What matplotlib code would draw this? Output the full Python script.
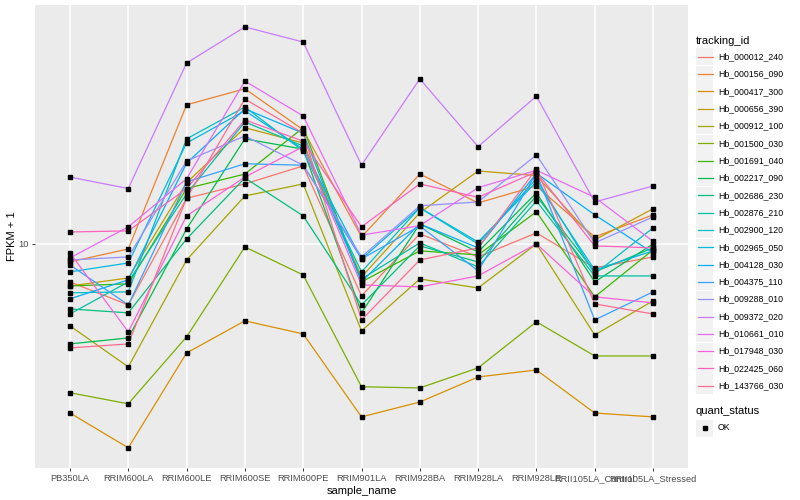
import matplotlib
matplotlib.use('Agg')
import matplotlib.pyplot as plt
from matplotlib.lines import Line2D
from matplotlib.patches import Rectangle

plt.rcParams['font.family'] = ['Liberation Sans', 'DejaVu Sans']

samples = ['PB350LA', 'RRIM600LA', 'RRIM600LE', 'RRIM600SE', 'RRIM600PE',
           'RRIM901LA', 'RRIM928BA', 'RRIM928LA', 'RRIM928LE',
           'RRII105LA_Control', 'RRII105LA_Stressed']

tracking_ids = ['Hb_000012_240', 'Hb_000156_090', 'Hb_000417_300', 'Hb_000656_390',
                'Hb_000912_100', 'Hb_001500_030', 'Hb_001691_040', 'Hb_002217_090',
                'Hb_002686_230', 'Hb_002876_210', 'Hb_002900_120', 'Hb_002965_050',
                'Hb_004128_030', 'Hb_004375_110', 'Hb_009288_010', 'Hb_009372_020',
                'Hb_010661_010', 'Hb_017948_030', 'Hb_022425_060', 'Hb_143766_030']

# ggplot default hue palette for 20 groups
colors = ['#F8766D', '#EA8331', '#D89000', '#C09B00', '#A3A500', '#7CAE00', '#39B600',
          '#00BB4E', '#00BF7D', '#00C1A3', '#00BFC4', '#00BAE0', '#00B0F6', '#35A2FF',
          '#9590FF', '#C77CFF', '#E76BF3', '#FA62DB', '#FF62BC', '#FF6C91']

# FPKM + 1, one list per gene, in sample order
hb_000012_240 = [7.47, 6.26, 14.2, 15.85, 18.2, 6.71, 10.8, 9.05, 10.88, 8.32, 9.05]
hb_000156_090 = [8.71, 9.62, 29.1, 32.9, 24.0, 10.55, 17.1, 13.7, 15.6, 10.55, 12.5]
hb_000417_300 = [2.73, 2.09, 4.33, 5.54, 5.01, 2.65, 2.97, 3.60, 3.80, 2.73, 2.65]
hb_000656_390 = [7.24, 7.70, 16.0, 24.4, 21.7, 7.76, 12.7, 17.5, 16.9, 10.31, 13.1]
hb_000912_100 = [5.33, 3.89, 8.84, 14.45, 15.85, 5.13, 7.64, 7.13, 10.0, 4.97, 6.46]
hb_001500_030 = [3.19, 2.93, 4.90, 9.77, 7.88, 3.34, 3.31, 3.86, 5.50, 4.23, 4.23]
hb_001691_040 = [7.24, 7.36, 15.3, 17.1, 24.4, 7.47, 9.48, 9.19, 12.8, 6.66, 9.55]
hb_002217_090 = [4.64, 4.86, 11.22, 22.4, 20.7, 5.89, 11.66, 9.40, 14.8, 7.47, 10.0]
hb_002686_230 = [6.07, 5.89, 10.39, 16.6, 12.4, 6.26, 9.85, 8.71, 14.45, 8.07, 9.70]
hb_002876_210 = [5.84, 7.47, 14.7, 25.5, 21.2, 7.64, 10.08, 8.38, 13.9, 7.82, 7.82]
hb_002900_120 = [6.87, 6.92, 22.4, 28.6, 20.4, 8.07, 13.2, 10.0, 16.5, 7.94, 11.31]
hb_002965_050 = [8.07, 8.64, 21.7, 27.8, 20.7, 8.91, 13.2, 10.15, 16.1, 8.19, 9.48]
hb_004128_030 = [6.56, 7.59, 18.6, 28.2, 23.4, 7.47, 11.66, 9.70, 17.2, 12.5, 9.33]
hb_004375_110 = [8.51, 6.26, 16.1, 18.5, 18.3, 8.91, 11.48, 8.13, 17.2, 5.58, 6.92]
hb_009288_010 = [8.84, 9.05, 18.9, 22.9, 18.3, 9.05, 13.4, 13.8, 19.8, 10.08, 12.3]
hb_009372_020 = [16.7, 15.3, 40.1, 52.9, 47.1, 18.3, 35.5, 21.1, 31.1, 13.8, 15.6]
hb_010661_010 = [8.98, 11.4, 16.5, 34.9, 26.7, 10.7, 11.5, 15.4, 17.6, 14.3, 10.2]
hb_017948_030 = [9.33, 5.09, 12.4, 16.7, 21.1, 7.30, 7.19, 7.82, 10.0, 6.66, 6.36]
hb_022425_060 = [10.96, 11.05, 15.3, 25.9, 22.0, 11.4, 15.85, 14.3, 17.4, 9.85, 9.70]
hb_143766_030 = [4.50, 4.64, 14.2, 30.4, 23.4, 5.58, 8.84, 9.70, 17.8, 6.31, 5.84]

series = [hb_000012_240, hb_000156_090, hb_000417_300, hb_000656_390, hb_000912_100,
          hb_001500_030, hb_001691_040, hb_002217_090, hb_002686_230, hb_002876_210,
          hb_002900_120, hb_002965_050, hb_004128_030, hb_004375_110, hb_009288_010,
          hb_009372_020, hb_010661_010, hb_017948_030, hb_022425_060, hb_143766_030]

W, H = 800, 500
fig = plt.figure(figsize=(8, 5), dpi=100)
ax = fig.add_axes([35 / W, 1 - 468 / H, (688 - 35) / W, (468 - 5) / H])
ax.set_facecolor('#EBEBEB')
for s in ax.spines.values():
    s.set_visible(False)

x = list(range(len(samples)))
for vals, c in zip(series, colors):
    ax.plot(x, vals, color=c, lw=0.9, zorder=2)
for vals in series:
    ax.plot(x, vals, 's', color='black', ms=2.4, zorder=3)

ax.set_yscale('log')
ax.set_ylim(1.79, 62.6)
ax.set_xlim(-0.6, len(samples) - 0.4)
ax.set_yticks([10])
ax.set_yticklabels(['10'])
ax.minorticks_off()
ax.set_xticks(x)
ax.set_xticklabels(samples)
ax.grid(True, color='white', lw=1.1)
ax.set_axisbelow(True)
ax.tick_params(colors='#333333', labelcolor='#4D4D4D', labelsize=6.7, length=2.5, width=0.7, pad=2)
ax.set_xlabel('sample_name', fontsize=8, labelpad=2)
ax.set_ylabel('FPKM + 1', fontsize=8, labelpad=1)

# legend drawn by hand in pixel positions
def fx(px):
    return px / W

def fy(py):
    return 1 - py / H

fig.text(fx(696), fy(41), 'tracking_id', fontsize=8, va='center', ha='left')
for i, (tid, c) in enumerate(zip(tracking_ids, colors)):
    yc = 56.7 + i * 17.32
    fig.add_artist(Rectangle((fx(696), fy(yc + 8.5)), 17 / W, 17 / H,
                             facecolor='#F2F2F2', edgecolor='none', transform=fig.transFigure))
    fig.add_artist(Line2D([fx(698), fx(713)], [fy(yc), fy(yc)], color=c, lw=0.9,
                          transform=fig.transFigure))
    fig.text(fx(718), fy(yc), tid, fontsize=6.3, va='center', ha='left')

fig.text(fx(696), fy(411), 'quant_status', fontsize=8, va='center', ha='left')
fig.add_artist(Rectangle((fx(696), fy(428 + 8.5)), 17 / W, 17 / H,
                         facecolor='#F2F2F2', edgecolor='none', transform=fig.transFigure))
fig.add_artist(Line2D([fx(704.5)], [fy(428)], marker='s', color='black', ms=2.4,
                      linestyle='none', transform=fig.transFigure))
fig.text(fx(718), fy(428), 'OK', fontsize=6.3, va='center', ha='left')

fig.savefig('out.png', dpi=100)
